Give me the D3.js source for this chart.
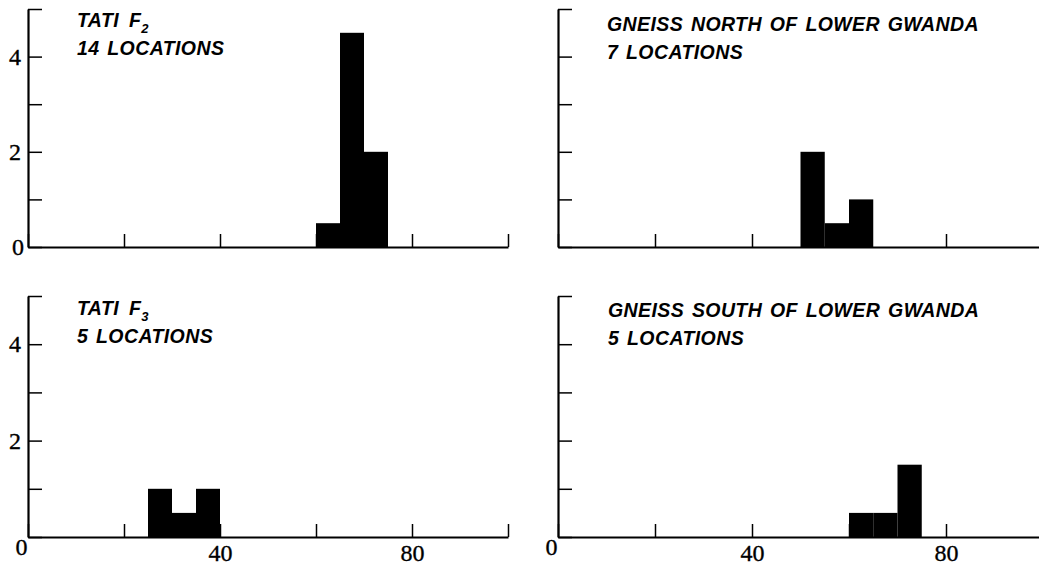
<!DOCTYPE html>
<html>
<head>
<meta charset="utf-8">
<script src="https://cdn.jsdelivr.net/npm/d3@7"></script>
<style>
  html, body { margin: 0; padding: 0; background: #fff; }
  svg { display: block; }
  .title { font-family: "Liberation Sans", Arial, sans-serif; font-weight: bold; font-style: italic;
           font-size: 19.5px; letter-spacing: 0.4px; word-spacing: 2px; fill: #000; }
  .axis text { font-family: "Liberation Serif", "Times New Roman", serif; font-size: 24px; fill: #000;
               stroke: #000; stroke-width: 0.35px; }
</style>
</head>
<body>
<svg id="chart" width="1039" height="568"></svg>
<script>
// Histogram data: bin starts (lower edge) and bar heights for each locality
const binWidth = 5;

const tatiF2Bins = [60, 65, 70];
const tatiF2Heights = [0.5, 4.5, 2];

const gneissNorthBins = [50, 55, 60];
const gneissNorthHeights = [2, 0.5, 1];

const tatiF3Bins = [25, 30, 35];
const tatiF3Heights = [1, 0.5, 1];

const gneissSouthBins = [60, 65, 70];
const gneissSouthHeights = [0.5, 0.5, 1.5];

// Axis ticks
const xTicks = [0, 20, 40, 60, 80, 100];
const xTickLabels = [0, 40, 80];
const yTicks = [0, 1, 2, 3, 4, 5];
const yTickLabels = [2, 4];

const xDomain = [0, 100];
const yDomain = [0, 5];

const svg = d3.select("#chart");

// Panel frames: x-axis pixel range, baseline/top pixels and title anchor
const panels = [
  { title: ["TATI", "F", "2"], sub: "14 LOCATIONS", bins: tatiF2Bins, heights: tatiF2Heights,
    x0: 28, x1: 508, y0: 247, y1: 9, tx: 77, ty: 27, showY: true, showZeroY: true, showX: false },
  { title: ["GNEISS NORTH OF LOWER GWANDA"], sub: "7 LOCATIONS", bins: gneissNorthBins, heights: gneissNorthHeights,
    x0: 558, x1: 1043, y0: 247, y1: 9, tx: 607, ty: 31, showY: false, showZeroY: false, showX: false },
  { title: ["TATI", "F", "3"], sub: "5 LOCATIONS", bins: tatiF3Bins, heights: tatiF3Heights,
    x0: 28, x1: 508, y0: 537, y1: 296, tx: 77, ty: 315, showY: true, showZeroY: false, showX: true },
  { title: ["GNEISS SOUTH OF LOWER GWANDA"], sub: "5 LOCATIONS", bins: gneissSouthBins, heights: gneissSouthHeights,
    x0: 558, x1: 1043, y0: 537, y1: 296, tx: 608, ty: 317, showY: false, showZeroY: false, showX: true }
];

panels.forEach(p => {
  const x = d3.scaleLinear().domain(xDomain).range([p.x0, p.x1]);
  const y = d3.scaleLinear().domain(yDomain).range([p.y0, p.y1]);
  const g = svg.append("g");

  // bars
  g.selectAll("rect.bar")
    .data(p.bins.map((b, i) => ({ start: b, h: p.heights[i] })))
    .join("rect")
    .attr("class", "bar")
    .attr("x", d => x(d.start))
    .attr("width", d => x(d.start + binWidth) - x(d.start))
    .attr("y", d => y(d.h))
    .attr("height", d => y(0) - y(d.h))
    .attr("fill", "#000");

  // y axis with inward ticks
  const yAxis = d3.axisLeft(y)
    .tickValues(yTicks)
    .tickSizeInner(-14)
    .tickSizeOuter(0)
    .tickPadding(7)
    .tickFormat(d => (p.showY && (yTickLabels.includes(d) || (d === 0 && p.showZeroY))) ? d : "");
  const gy = g.append("g").attr("class", "axis").attr("transform", `translate(${p.x0},0)`).call(yAxis);
  gy.select(".domain").attr("stroke-width", 2.2);
  gy.selectAll(".tick line").attr("stroke-width", 1.5);
  gy.selectAll(".tick text").filter(d => d === 0).attr("x", -4);

  // x axis with upward ticks
  const xAxis = d3.axisBottom(x)
    .tickValues(xTicks)
    .tickSizeInner(-13)
    .tickSizeOuter(0)
    .tickPadding(7)
    .tickFormat(d => (p.showX && xTickLabels.includes(d)) ? d : "");
  const gx = g.append("g").attr("class", "axis").attr("transform", `translate(0,${p.y0})`).call(xAxis);
  gx.select(".domain").attr("stroke-width", 2.2);
  gx.selectAll(".tick line").attr("stroke-width", 1.5);
  gx.selectAll(".tick text").filter(d => d === 0)
    .attr("dx", -7).attr("y", 1);

  // titles
  const t = g.append("text").attr("class", "title").attr("x", p.tx).attr("y", p.ty);
  t.append("tspan").text(p.title[0]);
  if (p.title.length > 1) {
    t.append("tspan").attr("dx", 10).text(p.title[1]);
    t.append("tspan").attr("dy", 6).attr("font-size", 13).text(p.title[2]);
  }
  g.append("text").attr("class", "title").attr("x", p.tx).attr("y", p.ty + 28).text(p.sub);
});
</script>
</body>
</html>
